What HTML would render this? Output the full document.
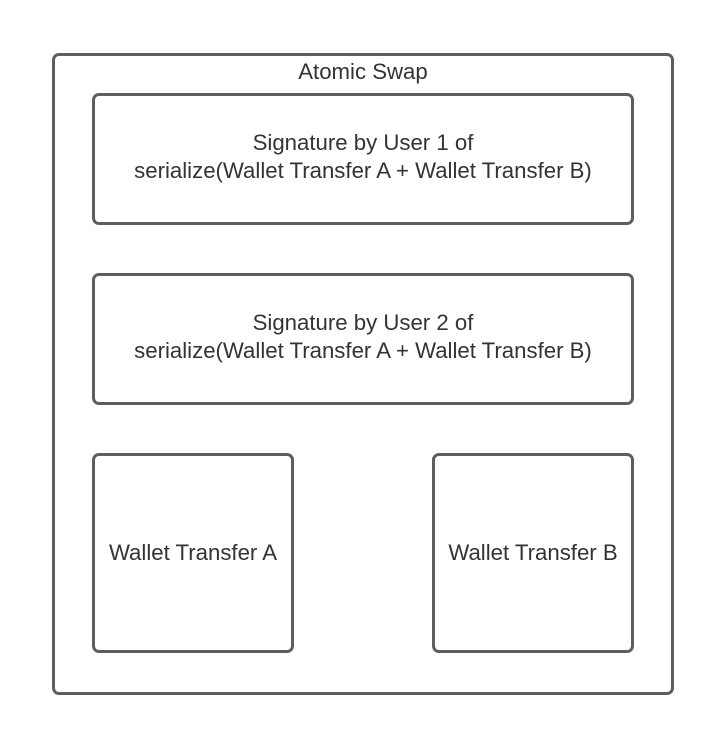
<!DOCTYPE html>
<html><head><style>
body{margin:0;width:726px;height:748px;background:#fff;position:relative;font-family:"Liberation Sans",sans-serif;color:#333;}
.b{position:absolute;box-sizing:border-box;border:3px solid #5e5e5e;border-radius:7px;display:flex;align-items:center;justify-content:center;text-align:center;font-size:22.2px;line-height:28px;}
</style></head><body>
<div class="b" style="left:52px;top:53px;width:622px;height:642px;align-items:flex-start;"><div style="margin-top:2px">Atomic Swap</div></div>
<div class="b" style="left:92px;top:93px;width:542px;height:132px;"><div style="margin-top:-4px">Signature by User 1 of<br>serialize(Wallet Transfer A + Wallet Transfer B)</div></div>
<div class="b" style="left:92px;top:273px;width:542px;height:132px;"><div style="margin-top:-4px">Signature by User 2 of<br>serialize(Wallet Transfer A + Wallet Transfer B)</div></div>
<div class="b" style="left:92px;top:453px;width:202px;height:200px;">Wallet Transfer A</div>
<div class="b" style="left:432px;top:453px;width:202px;height:200px;">Wallet Transfer B</div>
</body></html>
